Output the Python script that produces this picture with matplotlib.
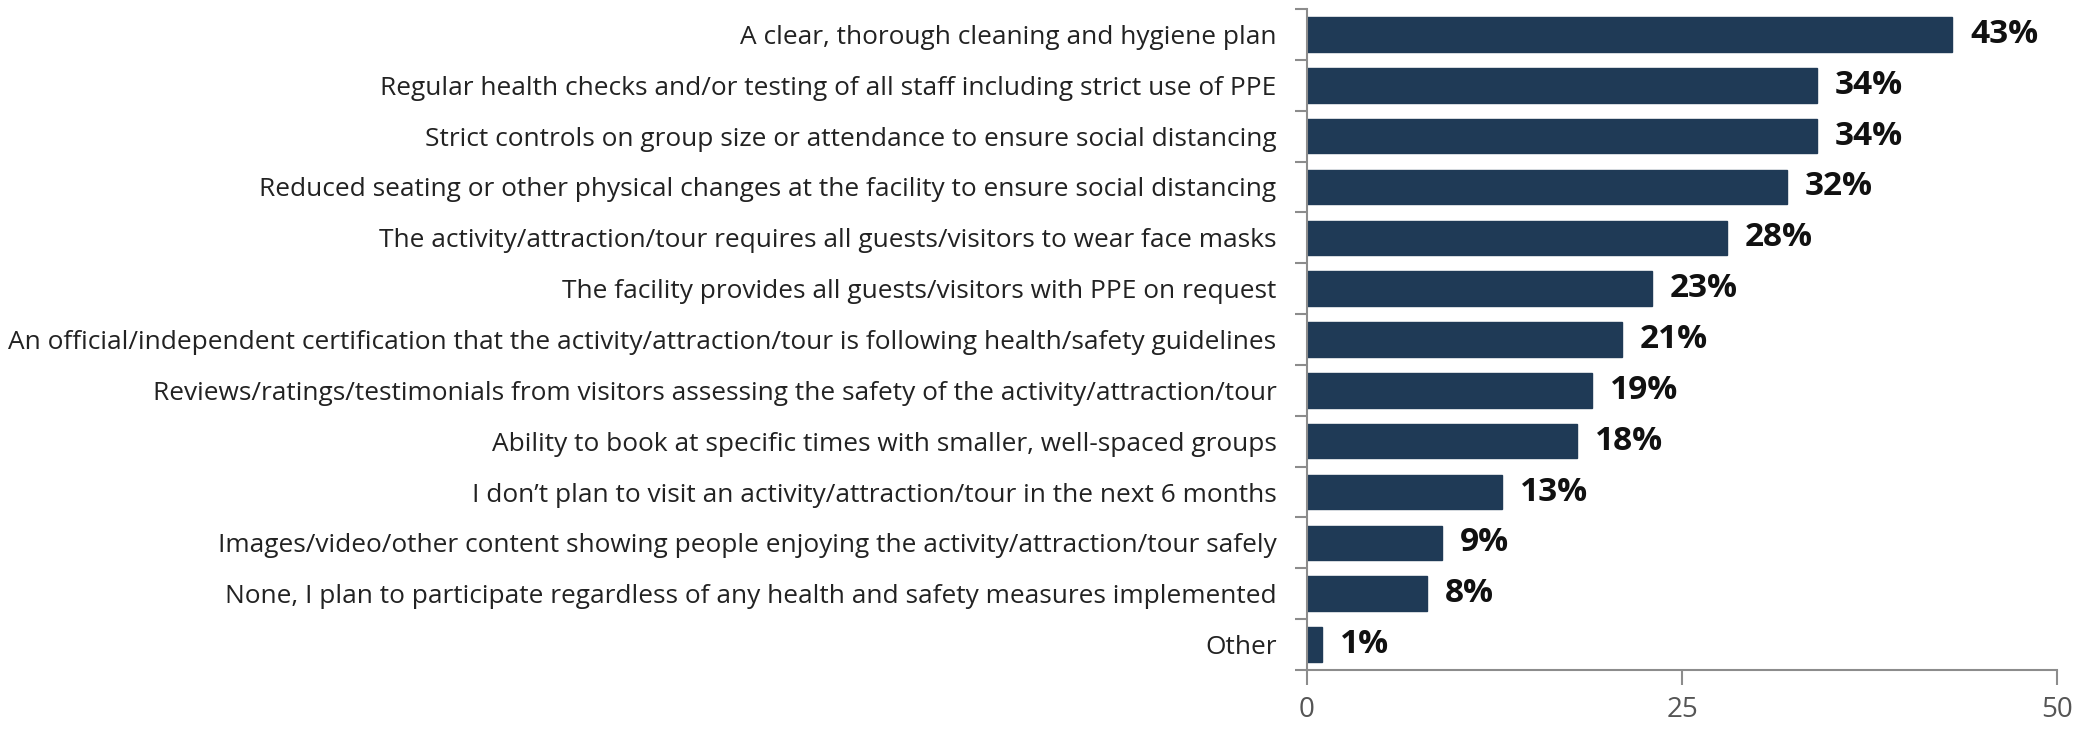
import matplotlib
matplotlib.use("Agg")
import matplotlib.pyplot as plt

categories = [
    "A clear, thorough cleaning and hygiene plan",
    "Regular health checks and/or testing of all staff including strict use of PPE",
    "Strict controls on group size or attendance to ensure social distancing",
    "Reduced seating or other physical changes at the facility to ensure social distancing",
    "The activity/attraction/tour requires all guests/visitors to wear face masks",
    "The facility provides all guests/visitors with PPE on request",
    "An official/independent certification that the activity/attraction/tour is following health/safety guidelines",
    "Reviews/ratings/testimonials from visitors assessing the safety of the activity/attraction/tour",
    "Ability to book at specific times with smaller, well-spaced groups",
    "I don\u2019t plan to visit an activity/attraction/tour in the next 6 months",
    "Images/video/other content showing people enjoying the activity/attraction/tour safely",
    "None, I plan to participate regardless of any health and safety measures implemented",
    "Other",
]
values = [43, 34, 34, 32, 28, 23, 21, 19, 18, 13, 9, 8, 1]
xticks = [0, 25, 50]

plt.rcParams['font.family'] = ['Open Sans', 'DejaVu Sans']

fig = plt.figure(figsize=(20.77, 7.29), dpi=100)
ax = fig.add_axes([0.6293, 0.0809, 0.9904 - 0.6293, 0.9877 - 0.0809])

y = list(range(len(categories)))
ax.barh(y, values, height=0.68, color="#1f3a56", edgecolor="#1f3a56")
ax.set_ylim(len(categories) - 0.5, -0.5)
ax.set_xlim(0, 50)

for yi, v in zip(y, values):
    ax.text(v + 1.2, yi, f"{v}%", va="center", ha="left", fontsize=24,
            fontweight="bold", color="#111111")

ax.set_yticks([i - 0.5 for i in range(len(categories) + 1)])
ax.set_yticklabels([])
ax.set_yticks(y, minor=True)
ax.set_yticklabels(categories, minor=True, fontsize=18.9, color="#222222")
ax.tick_params(axis="y", which="minor", length=0, pad=22)
ax.tick_params(axis="y", which="major", length=9, width=1.5, color="#8c8c8c")

ax.set_xticks(xticks)
ax.set_xticklabels([str(t) for t in xticks], fontsize=20, color="#555555")
ax.tick_params(axis="x", length=11, width=1.5, color="#8c8c8c", pad=8)

for s in ["top", "right"]:
    ax.spines[s].set_visible(False)
for s in ["left", "bottom"]:
    ax.spines[s].set_color("#8c8c8c")
    ax.spines[s].set_linewidth(1.5)

fig.savefig("out.png", dpi=100, facecolor="white")
